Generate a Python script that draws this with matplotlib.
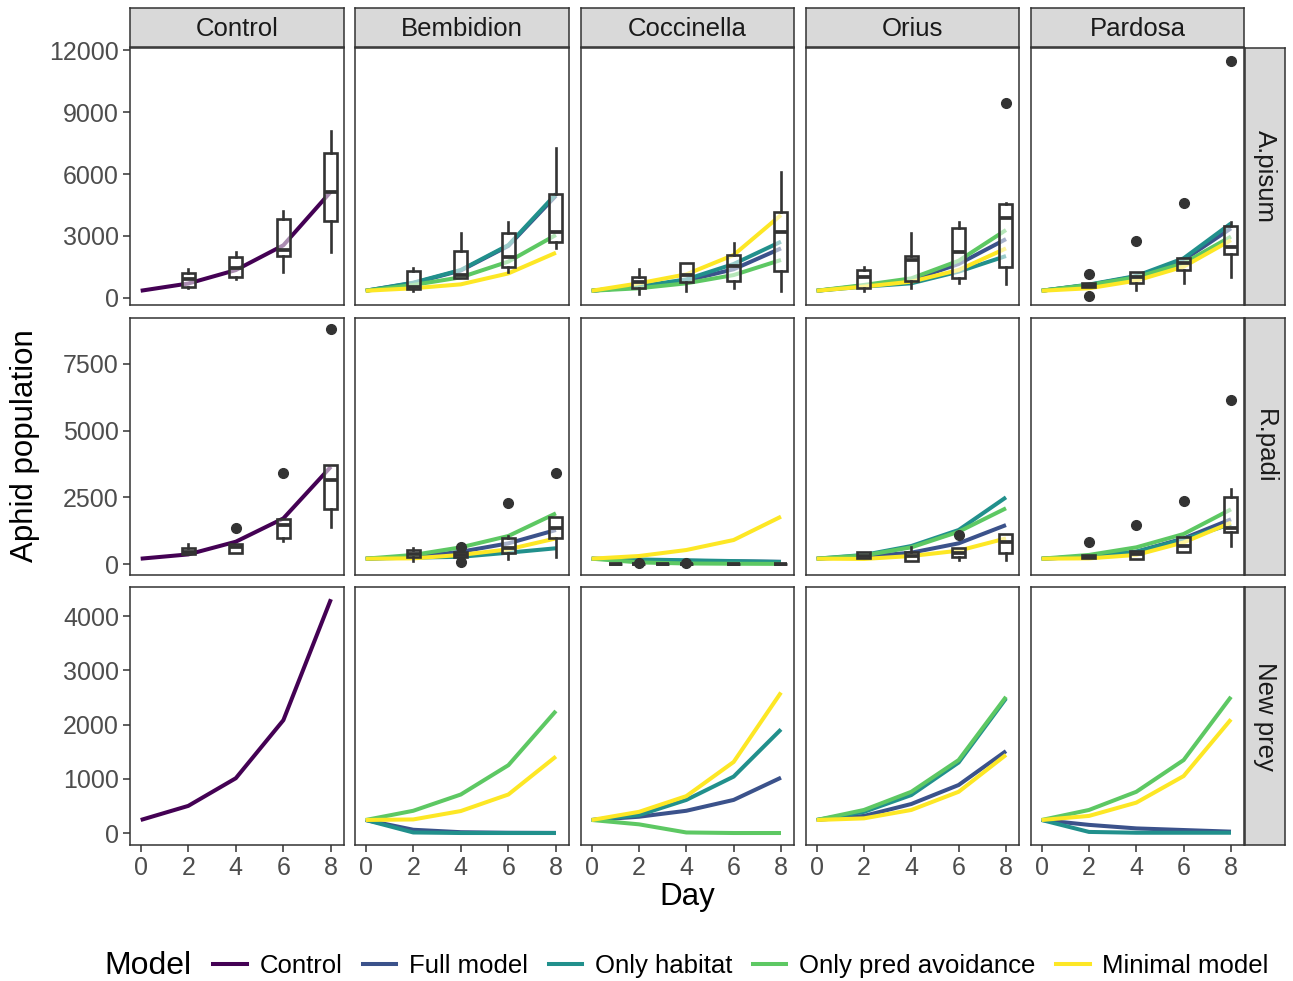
import matplotlib
matplotlib.use("Agg")
import matplotlib.pyplot as plt
from matplotlib.lines import Line2D

plt.rcParams['font.family'] = ['Liberation Sans', 'DejaVu Sans']

days = [0, 2, 4, 6, 8]
predators = ['Control', 'Bembidion', 'Coccinella', 'Orius', 'Pardosa']
prey = ['A.pisum', 'R.padi', 'New prey']
models = ['Control', 'Full model', 'Only habitat', 'Only pred avoidance', 'Minimal model']
model_colors = ['#440154', '#3B528B', '#21908C', '#5DC863', '#FDE725']

# model predictions, one list per (predator, model), values at days 0..8
apisum_lines = {
    ('Control', 'Control'): [350, 700, 1350, 2550, 5150],
    ('Bembidion', 'Full model'): [350, 720, 1330, 2520, 4950],
    ('Bembidion', 'Only habitat'): [350, 740, 1355, 2560, 5030],
    ('Bembidion', 'Only pred avoidance'): [350, 630, 1000, 1760, 3050],
    ('Bembidion', 'Minimal model'): [350, 470, 660, 1190, 2190],
    ('Coccinella', 'Full model'): [350, 550, 840, 1390, 2400],
    ('Coccinella', 'Only habitat'): [350, 560, 900, 1645, 2725],
    ('Coccinella', 'Only pred avoidance'): [350, 470, 710, 1110, 1840],
    ('Coccinella', 'Minimal model'): [350, 710, 1145, 2080, 4015],
    ('Orius', 'Full model'): [350, 590, 870, 1645, 2850],
    ('Orius', 'Only habitat'): [350, 550, 710, 1275, 2030],
    ('Orius', 'Only pred avoidance'): [350, 630, 950, 1800, 3290],
    ('Orius', 'Minimal model'): [350, 550, 790, 1355, 2400],
    ('Pardosa', 'Full model'): [350, 630, 1040, 1840, 3370],
    ('Pardosa', 'Only habitat'): [350, 650, 1065, 1920, 3610],
    ('Pardosa', 'Only pred avoidance'): [350, 630, 1000, 1680, 2970],
    ('Pardosa', 'Minimal model'): [350, 470, 840, 1515, 2800],
}
rpadi_lines = {
    ('Control', 'Control'): [200, 360, 836, 1710, 3650],
    ('Bembidion', 'Full model'): [200, 260, 460, 775, 1275],
    ('Bembidion', 'Only habitat'): [200, 240, 270, 425, 590],
    ('Bembidion', 'Only pred avoidance'): [200, 340, 625, 1050, 1900],
    ('Bembidion', 'Minimal model'): [200, 212, 340, 550, 960],
    ('Coccinella', 'Full model'): [200, 150, 120, 100, 80],
    ('Coccinella', 'Only habitat'): [200, 170, 140, 110, 80],
    ('Coccinella', 'Only pred avoidance'): [200, 60, 20, 10, 5],
    ('Coccinella', 'Minimal model'): [200, 300, 525, 900, 1775],
    ('Orius', 'Full model'): [200, 275, 425, 775, 1460],
    ('Orius', 'Only habitat'): [200, 340, 675, 1275, 2500],
    ('Orius', 'Only pred avoidance'): [200, 320, 625, 1210, 2090],
    ('Orius', 'Minimal model'): [200, 190, 300, 500, 960],
    ('Pardosa', 'Full model'): [200, 275, 460, 960, 1675],
    ('Pardosa', 'Only habitat'): [200, 275, 460, 925, 1500],
    ('Pardosa', 'Only pred avoidance'): [200, 340, 625, 1125, 2050],
    ('Pardosa', 'Minimal model'): [200, 212, 340, 810, 1550],
}
newprey_lines = {
    ('Control', 'Control'): [240, 500, 1010, 2080, 4310],
    ('Bembidion', 'Full model'): [240, 60, 15, 5, 2],
    ('Bembidion', 'Only habitat'): [240, 10, 0, 0, 0],
    ('Bembidion', 'Only pred avoidance'): [240, 410, 710, 1250, 2250],
    ('Bembidion', 'Minimal model'): [240, 250, 405, 710, 1410],
    ('Coccinella', 'Full model'): [240, 300, 410, 610, 1020],
    ('Coccinella', 'Only habitat'): [240, 330, 610, 1040, 1910],
    ('Coccinella', 'Only pred avoidance'): [240, 160, 10, 0, 0],
    ('Coccinella', 'Minimal model'): [240, 390, 680, 1310, 2590],
    ('Orius', 'Full model'): [240, 315, 535, 885, 1510],
    ('Orius', 'Only habitat'): [240, 390, 700, 1300, 2480],
    ('Orius', 'Only pred avoidance'): [240, 425, 760, 1345, 2510],
    ('Orius', 'Minimal model'): [240, 270, 425, 760, 1440],
    ('Pardosa', 'Full model'): [240, 150, 85, 55, 25],
    ('Pardosa', 'Only habitat'): [240, 20, 5, 5, 5],
    ('Pardosa', 'Only pred avoidance'): [240, 425, 760, 1345, 2510],
    ('Pardosa', 'Minimal model'): [240, 315, 560, 1050, 2095],
}

# observed counts as box stats: (day, whisker low, q1, median, q3, whisker high, outliers)
apisum_boxes = {
    'Control': [(2, 484, 550, 935, 1195, 1403, []), (4, 920, 1030, 1435, 2000, 2240, []),
                (6, 1270, 2030, 2320, 3800, 4210, []), (8, 2210, 3725, 5145, 7000, 8080, [])],
    'Bembidion': [(2, 355, 435, 550, 1320, 1470, []), (4, 950, 950, 1110, 2290, 3160, []),
                  (6, 1275, 1485, 2000, 3160, 3690, []), (8, 2400, 2725, 3210, 5030, 7240, [])],
    'Coccinella': [(2, 190, 470, 790, 1000, 1390, []), (4, 355, 760, 1110, 1680, 1700, []),
                   (6, 500, 840, 1550, 2080, 2680, []), (8, 355, 1320, 3180, 4145, 6080, [])],
    'Orius': [(2, 355, 470, 1000, 1355, 1515, []), (4, 470, 840, 1840, 2030, 3160, []),
              (6, 710, 950, 2210, 3400, 3690, []), (8, 660, 1515, 3890, 4530, 4580, [9420])],
    'Pardosa': [(2, 515, 515, 600, 710, 710, [1145, 110]), (4, 385, 710, 1000, 1240, 1240, [2760]),
                (6, 710, 1355, 1710, 1920, 1920, [4580]), (8, 1030, 2110, 2480, 3480, 3690, [11480])],
}
rpadi_boxes = {
    'Control': [(2, 365, 365, 460, 590, 740, []), (4, 400, 400, 650, 740, 740, [1360]),
                (6, 860, 960, 1460, 1690, 1690, [3400]), (8, 1400, 2060, 3150, 3710, 3710, [8800])],
    'Bembidion': [(2, 125, 275, 375, 525, 590, []), (4, 275, 275, 340, 460, 460, [650, 62]),
                  (6, 175, 400, 590, 960, 1050, [2275]), (8, 275, 990, 1340, 1775, 1775, [3400])],
    'Coccinella': [(1, 0, 0, 5, 10, 10, []), (2, 0, 0, 5, 10, 10, [40]), (3, 0, 0, 5, 10, 10, []),
                   (4, 0, 0, 5, 10, 10, [40]), (6, 0, 0, 5, 10, 10, []), (8, 0, 0, 5, 10, 10, [])],
    'Orius': [(2, 212, 212, 310, 440, 440, []), (4, 125, 125, 300, 460, 640, []),
              (6, 150, 275, 400, 590, 590, [1090]), (8, 150, 400, 836, 1125, 1125, [])],
    'Pardosa': [(2, 212, 212, 275, 340, 340, [810]), (4, 190, 190, 375, 500, 500, [1460]),
                (6, 460, 460, 675, 1025, 1025, [2360]), (8, 690, 1210, 1340, 2500, 2810, [6150])],
}

row_lines = [apisum_lines, rpadi_lines, newprey_lines]
row_boxes = [apisum_boxes, rpadi_boxes, {}]
row_ticks = [[0, 3000, 6000, 9000, 12000], [0, 2500, 5000, 7500], [0, 1000, 2000, 3000, 4000]]
row_ylim = [(-340, 12100), (-412, 9224), (-221, 4535)]

W, H = 1293, 981
fig = plt.figure(figsize=(W / 100, H / 100), dpi=100)

col_x = [(130, 344), (355, 569), (581, 794), (806, 1019), (1031, 1244)]
row_y = [(48, 305), (318, 575), (587, 845)]
edge = '#333333'
strip_fill = '#D9D9D9'


def px_axes(x0, y0, x1, y1):
    return fig.add_axes([x0 / W, 1 - y1 / H, (x1 - x0) / W, (y1 - y0) / H])


for r in range(3):
    for c, pred in enumerate(predators):
        x0, x1 = col_x[c]
        y0, y1 = row_y[r]
        ax = px_axes(x0, y0, x1, y1)
        for m, col in zip(models, model_colors):
            key = (pred, m)
            if key in row_lines[r]:
                ax.plot(days, row_lines[r][key], color=col, lw=2.9, solid_capstyle='butt', zorder=2)
        if pred in row_boxes[r]:
            stats = []
            pos = []
            for d, lo, q1, med, q3, hi, fl in row_boxes[r][pred]:
                stats.append(dict(whislo=lo, q1=q1, med=med, q3=q3, whishi=hi, fliers=fl))
                pos.append(d)
            ax.bxp(stats, positions=pos, widths=0.55, patch_artist=True, showcaps=False,
                   boxprops=dict(facecolor=(1, 1, 1, 0.55), edgecolor=edge, linewidth=1.9),
                   whiskerprops=dict(color=edge, linewidth=1.9),
                   medianprops=dict(color=edge, linewidth=2.7),
                   flierprops=dict(marker='o', markerfacecolor=edge, markeredgecolor=edge, markersize=7),
                   manage_ticks=False, zorder=3)
        ax.set_xlim(-0.45, 8.55)
        ax.set_ylim(*row_ylim[r])
        ax.set_xticks(days)
        ax.set_yticks(row_ticks[r])
        for s in ax.spines.values():
            s.set_color(edge)
            s.set_linewidth(1.1)
        ax.tick_params(colors=edge, labelcolor='#4D4D4D', labelsize=18, length=5, width=1.1, pad=3)
        if c != 0:
            ax.tick_params(axis='y', left=False, labelleft=False)
        else:
            ax.set_yticklabels([str(t) for t in row_ticks[r]])
        if r != 2:
            ax.tick_params(axis='x', bottom=False, labelbottom=False)

        if r == 0:
            sa = px_axes(x0, 8, x1, 47)
            sa.set_facecolor(strip_fill)
            sa.set_xticks([])
            sa.set_yticks([])
            for s in sa.spines.values():
                s.set_color(edge)
                s.set_linewidth(1.1)
            sa.text(0.5, 0.47, pred, ha='center', va='center', fontsize=18.5, color='#1A1A1A',
                    transform=sa.transAxes)
    sa = px_axes(1245, row_y[r][0], 1285, row_y[r][1])
    sa.set_facecolor(strip_fill)
    sa.set_xticks([])
    sa.set_yticks([])
    for s in sa.spines.values():
        s.set_color(edge)
        s.set_linewidth(1.1)
    sa.text(0.5, 0.5, prey[r], ha='center', va='center', rotation=270, fontsize=18.5,
            color='#1A1A1A', transform=sa.transAxes)

fig.text(25 / W, 1 - 446 / H, 'Aphid population', rotation=90, ha='center', va='center', fontsize=22.5)
fig.text(687 / W, 1 - 897 / H, 'Day', ha='center', va='center', fontsize=22.5)

fig.text(104 / W, 1 - 966 / H, 'Model', ha='left', va='center', fontsize=23)
handles = [Line2D([0], [0], color=col, lw=2.9) for col in model_colors]
fig.legend(handles, models, ncol=5, loc='center', bbox_to_anchor=(741 / W, 1 - 966 / H),
           frameon=False, fontsize=18.5, handlelength=1.3, handletextpad=0.5, columnspacing=0.8)

fig.savefig('out.png', dpi=100)
